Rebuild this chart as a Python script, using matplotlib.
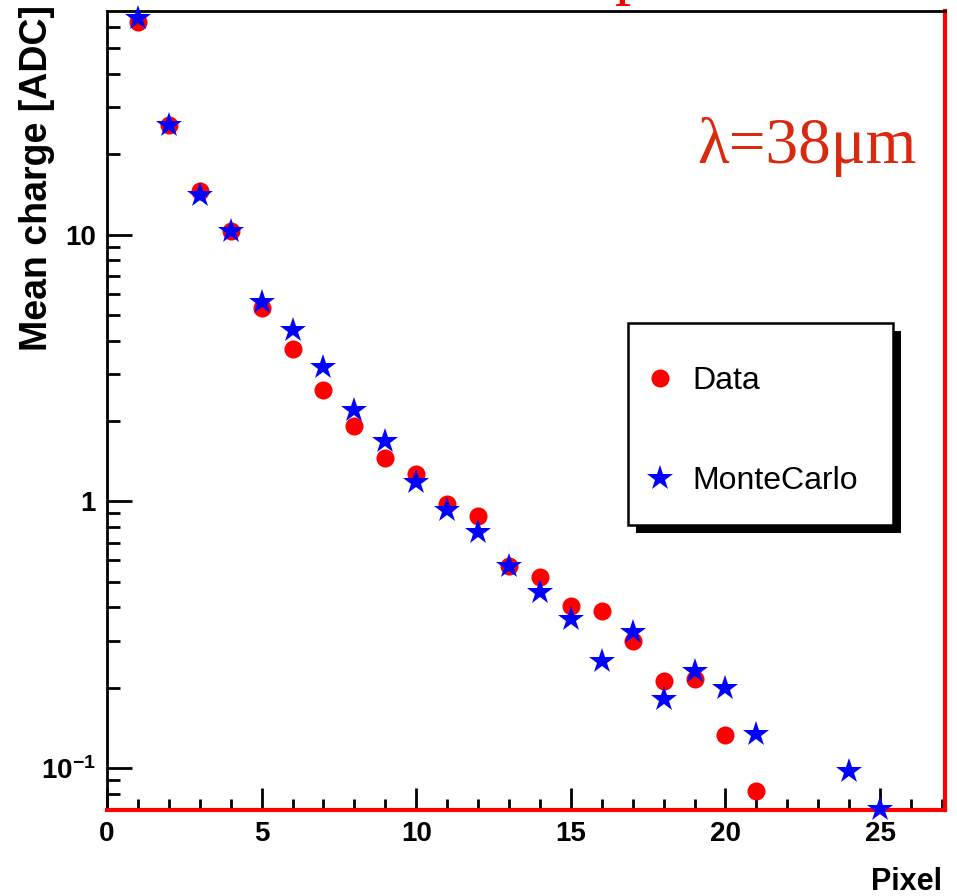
import numpy as np
import matplotlib
matplotlib.use("Agg")
import matplotlib.pyplot as plt
import matplotlib.transforms as mtransforms
from matplotlib.patches import Rectangle
from matplotlib.ticker import FixedLocator, MultipleLocator, LogLocator, NullFormatter

plt.rcParams['font.family'] = ['Liberation Sans', 'DejaVu Sans']
plt.rcParams['mathtext.fontset'] = 'custom'
plt.rcParams['mathtext.bf'] = 'Liberation Sans:bold'
plt.rcParams['mathtext.rm'] = 'Liberation Sans'

# mean charge per pixel
data_pixel = [1, 2, 3, 4, 5, 6, 7, 8, 9, 10, 11, 12, 13, 14, 15, 16, 17, 18, 19, 20, 21]
data_charge = [62.8, 25.8, 14.6, 10.3, 5.33, 3.74, 2.61, 1.91, 1.45, 1.27, 0.98, 0.88,
               0.57, 0.52, 0.404, 0.387, 0.299, 0.212, 0.215, 0.133, 0.082]

mc_pixel = [1, 2, 3, 4, 5, 6, 7, 8, 9, 10, 11, 12, 13, 14, 15, 16, 17, 18, 19, 20, 21, 24, 25]
mc_charge = [65.0, 25.8, 14.1, 10.3, 5.6, 4.4, 3.2, 2.19, 1.69, 1.18, 0.93, 0.77,
             0.57, 0.456, 0.361, 0.252, 0.323, 0.181, 0.231, 0.199, 0.134, 0.097, 0.070]

ytick_vals = [0.1, 1, 10]
ytick_labels = [r'$\mathbf{10^{-1}}$', '1', '10']

fig = plt.figure(figsize=(9.57, 8.96), dpi=100)
ax = fig.add_axes([0.1118, 0.096, 0.8757, 0.8917])

ax.plot(data_pixel, data_charge, 'o', color='#ff0000', markersize=13,
        markeredgewidth=0, label='Data', zorder=3)
ax.plot(mc_pixel, mc_charge, '*', color='#0000ff', markersize=19,
        markeredgewidth=0, label='MonteCarlo', zorder=4, clip_on=False)

ax.set_yscale('log')
ax.set_xlim(0, 27.1)
ax.set_ylim(0.0695, 69)

ax.xaxis.set_major_locator(MultipleLocator(5))
ax.xaxis.set_minor_locator(MultipleLocator(1))
ax.yaxis.set_major_locator(FixedLocator(ytick_vals))
ax.set_yticklabels(ytick_labels)
ax.yaxis.set_minor_locator(LogLocator(base=10, subs=np.arange(2, 10)))
ax.yaxis.set_minor_formatter(NullFormatter())

ax.tick_params(axis='both', which='both', direction='in', top=False, right=False,
               width=2, color='black')
ax.tick_params(axis='x', which='major', length=16, labelsize=20, pad=8)
ax.tick_params(axis='x', which='minor', length=8)
ax.tick_params(axis='y', which='major', length=18, labelsize=20, pad=8)
ax.tick_params(axis='y', which='minor', length=9.5)
for lab in ax.get_xticklabels() + ax.get_yticklabels():
    lab.set_fontweight('bold')

for s in ['top', 'left']:
    ax.spines[s].set_linewidth(2)
    ax.spines[s].set_color('black')
for s in ['bottom', 'right']:
    ax.spines[s].set_linewidth(3)
    ax.spines[s].set_color('#ff0000')

# ROOT-style legend box: white frame with a solid black drop shadow
box = (0.622, 0.357, 0.316, 0.252)
shadow_tr = ax.transAxes + mtransforms.ScaledTranslation(8 / 100, -8 / 100, fig.dpi_scale_trans)
ax.add_patch(Rectangle(box[:2], box[2], box[3], transform=shadow_tr,
                       facecolor='black', edgecolor='none', zorder=5))
ax.add_patch(Rectangle(box[:2], box[2], box[3], transform=ax.transAxes,
                       facecolor='white', edgecolor='black', linewidth=1.8, zorder=6))

leg = ax.legend(loc='center left', bbox_to_anchor=(0.6486, 0.474), borderaxespad=0,
                fontsize=23, frameon=False, borderpad=0, labelspacing=2.2,
                handlelength=0.6, handletextpad=0.72, markerscale=1.0)
leg.set_zorder(7)

fig.text(0.039, 1 - 5 / 896, 'Mean charge [ADC]', rotation=90, ha='center', va='top',
         fontsize=27, fontweight='bold')
fig.text(942 / 957, 1 - 890 / 896, 'Pixel', ha='right', va='baseline',
         fontsize=22, fontweight='bold')
fig.text(697 / 957, 1 - 163 / 896, 'λ=38μm', ha='left', va='baseline',
         fontsize=47, color='#d92a10', family='Liberation Serif')
fig.text(631 / 957, 1.009, 'p', ha='center', va='baseline', fontsize=47,
         color='#ff0000', family='Liberation Serif')

fig.savefig('out.png', dpi=100)
